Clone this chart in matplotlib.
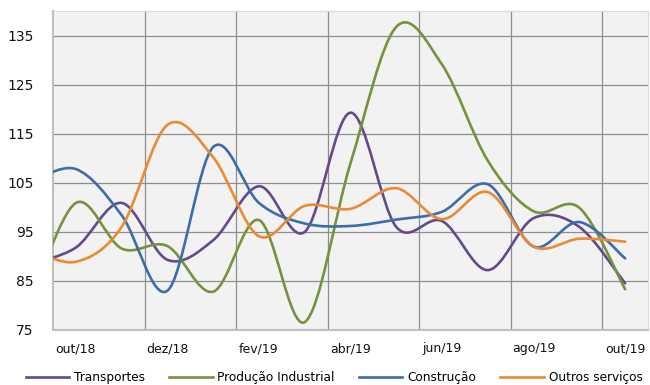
import numpy as np
import matplotlib.pyplot as plt
from matplotlib.path import Path
from matplotlib.patches import PathPatch
from matplotlib.lines import Line2D

# meses (set/18 fica fora da área visível, só dá a entrada da curva)
meses = ["set/18", "out/18", "nov/18", "dez/18", "jan/19", "fev/19", "mar/19",
         "abr/19", "mai/19", "jun/19", "jul/19", "ago/19", "set/19", "out/19"]
rotulos = ["out/18", "dez/18", "fev/19", "abr/19", "jun/19", "ago/19", "out/19"]

transportes = [88.5, 91.8, 100.9, 89.3, 93.3, 104.3, 95.0, 119.3, 96.0, 97.2, 87.2, 97.8, 96.0, 84.5]
producao = [80.5, 100.9, 91.6, 92.1, 82.8, 97.4, 76.6, 109.0, 136.8, 129.1, 109.5, 99.2, 99.9, 83.3]
construcao = [105.0, 107.8, 98.4, 83.0, 112.3, 100.9, 96.7, 96.2, 97.5, 99.1, 104.7, 92.0, 97.0, 89.6]
outros = [91.6, 88.9, 96.0, 116.8, 110.2, 94.1, 100.3, 99.7, 103.9, 97.6, 103.1, 92.0, 93.6, 93.0]

series = [
    ("Transportes", transportes, "#65498F"),
    ("Produção Industrial", producao, "#76933C"),
    ("Construção", construcao, "#3B6EA8"),
    ("Outros serviços", outros, "#E98A34"),
]

# posição de cada mês no eixo (centro da categoria)
x = np.arange(len(meses)) - 0.5


def curva_suave(xs, ys):
    # linha suavizada estilo Excel: bezier cúbica com tangentes catmull-rom
    pts = np.column_stack([xs, ys])
    n = len(pts)
    verts = [pts[0]]
    codes = [Path.MOVETO]
    for i in range(n - 1):
        p0 = pts[i - 1] if i > 0 else pts[i]
        p1 = pts[i]
        p2 = pts[i + 1]
        p3 = pts[i + 2] if i + 2 < n else pts[i + 1]
        c1 = p1 + (p2 - p0) / 6
        c2 = p2 - (p3 - p1) / 6
        verts += [c1, c2, p2]
        codes += [Path.CURVE4] * 3
    return Path(verts, codes)


fig = plt.figure(figsize=(6.5, 3.85), dpi=100)
ax = fig.add_axes([0.0815, 0.143, 0.9155, 0.828])
ax.set_facecolor("#F2F2F2")

for nome, valores, cor in series:
    patch = PathPatch(curva_suave(x, valores), facecolor="none", edgecolor=cor,
                      lw=1.9, capstyle="round", joinstyle="round", zorder=3)
    ax.add_patch(patch)

ax.set_xlim(0, 13)
ax.set_ylim(75, 140)
ax.set_yticks(np.arange(75, 136, 10))
ax.set_xticks(np.arange(0.5, 13, 2))
ax.set_xticklabels(rotulos)
ax.set_xticks(np.arange(2, 13, 2), minor=True)

ax.grid(True, axis="y", which="major", color="#8E8E8E", lw=0.9, zorder=1)
ax.grid(True, axis="x", which="minor", color="#8E8E8E", lw=0.9, zorder=1)
ax.grid(False, axis="x", which="major")
ax.set_axisbelow(True)

ax.tick_params(axis="both", which="both", length=0)
ax.tick_params(axis="y", pad=14, labelsize=10)
ax.tick_params(axis="x", pad=9, labelsize=9)
for lab in ax.get_xticklabels() + ax.get_yticklabels():
    lab.set_color("#111111")

for lado in ["top", "right"]:
    ax.spines[lado].set_color("#D9D9D9")
for lado in ["left", "bottom"]:
    ax.spines[lado].set_color("#BFBFBF")
    ax.spines[lado].set_linewidth(1.5)

handles = [Line2D([], [], color=cor, lw=1.9) for _, _, cor in series]
fig.legend(handles, [s[0] for s in series], loc="center", ncol=4,
           bbox_to_anchor=(0.514, 0.02), frameon=False, fontsize=8.7,
           handlelength=3.6, handletextpad=0.4, columnspacing=2.0)

fig.savefig("out.png", dpi=100)
